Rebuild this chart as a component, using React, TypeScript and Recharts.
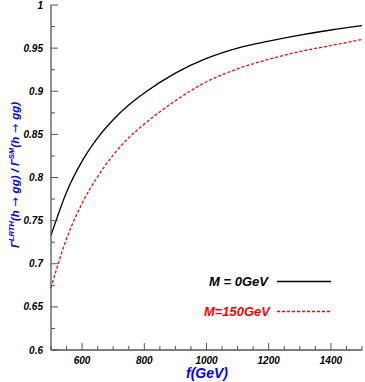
import { LineChart, Line, XAxis, YAxis, Customized } from 'recharts';

// f (GeV) and the ratio Gamma^LRTH / Gamma^SM for the two M values
const fValues = [500, 550, 600, 650, 700, 750, 800, 900, 1000, 1100, 1200, 1300, 1400, 1500];
const ratioM0 = [0.733, 0.783, 0.819, 0.846, 0.867, 0.884, 0.898, 0.921, 0.938, 0.950, 0.958, 0.965, 0.971, 0.976];
const ratioM150 = [0.672, 0.729, 0.770, 0.801, 0.826, 0.846, 0.862, 0.889, 0.911, 0.926, 0.937, 0.946, 0.953, 0.960];

const xTicks = [500, 550, 600, 650, 700, 750, 800, 850, 900, 950, 1000, 1050, 1100, 1150, 1200, 1250, 1300, 1350, 1400, 1450, 1500];
const xLabels = [600, 800, 1000, 1200, 1400];
const yTicks = [0.6, 0.625, 0.65, 0.675, 0.7, 0.725, 0.75, 0.775, 0.8, 0.825, 0.85, 0.875, 0.9, 0.925, 0.95, 0.975, 1];
const yLabels = ['0.6', '0.65', '0.7', '0.75', '0.8', '0.85', '0.9', '0.95', '1'];

const legendNames = ['M = 0GeV', 'M=150GeV'];

const data = fValues.map((f, i) => ({ f, m0: ratioM0[i], m150: ratioM150[i] }));

const AXIS = '#555';
const BLUE = '#0000ff';
const FONT = '"Liberation Sans", Arial, sans-serif';

const isMajorY = (v: number) => Math.abs(v * 20 - Math.round(v * 20)) < 1e-6;
const yLabelFor = (v: number) => yLabels.find((l) => Math.abs(parseFloat(l) - v) < 1e-6);

const BottomTick = (props: any) => {
  const { x, y, payload } = props;
  const v = payload.value;
  const major = v % 200 === 0;
  return (
    <g>
      <line x1={x} y1={y} x2={x} y2={y - (major ? 7 : 4)} stroke={AXIS} strokeWidth={1} />
      {xLabels.includes(v) && (
        <text x={x} y={y + 14} textAnchor="middle" fontFamily={FONT} fontSize={10}
          fontWeight="bold" fontStyle="italic" fill="#000">{v}</text>
      )}
    </g>
  );
};

const TopTick = (props: any) => {
  const { x, y, payload } = props;
  const major = payload.value % 200 === 0;
  return <line x1={x} y1={y} x2={x} y2={y + (major ? 7 : 4)} stroke={AXIS} strokeWidth={1} />;
};

const LeftTick = (props: any) => {
  const { x, y, payload } = props;
  const v = payload.value;
  const label = yLabelFor(v);
  return (
    <g>
      <line x1={x} y1={y} x2={x + (isMajorY(v) ? 7 : 4)} y2={y} stroke={AXIS} strokeWidth={1} />
      {label && (
        <text x={x - 8} y={y + 3.5} textAnchor="end" fontFamily={FONT} fontSize={10}
          fontWeight="bold" fontStyle="italic" fill="#000">{label}</text>
      )}
    </g>
  );
};

const RightTick = (props: any) => {
  const { x, y, payload } = props;
  return <line x1={x} y1={y} x2={x - (isMajorY(payload.value) ? 7 : 4)} y2={y} stroke={AXIS} strokeWidth={1} />;
};

const Arrow = () => (
  <tspan fontFamily='"DejaVu Sans", sans-serif' fontStyle="normal" fontWeight="normal"> → </tspan>
);

const Titles = () => (
  <g fontFamily={FONT} fontWeight="bold" fontStyle="italic">
    <text x={207} y={378} textAnchor="middle" fontSize={14} fill={BLUE}>f(GeV)</text>
    <text x={19} y={175} transform="rotate(-90, 19, 175)" textAnchor="middle" fontSize={11.5} fill={BLUE}>
      Γ<tspan fontSize={7.5} dy={-5}>LRTH</tspan>
      <tspan dy={5}>(h</tspan><Arrow /><tspan>gg) / Γ</tspan>
      <tspan fontSize={7.5} dy={-5}>SM</tspan>
      <tspan dy={5}>(h</tspan><Arrow /><tspan>gg)</tspan>
    </text>
    <text x={268} y={286} textAnchor="end" fontSize={13} fill="#000">{legendNames[0]}</text>
    <line x1={277} y1={281.5} x2={331} y2={281.5} stroke="#000" strokeWidth={1.3} />
    <text x={270} y={316} textAnchor="end" fontSize={13} fill="#ff0000">{legendNames[1]}</text>
    <line x1={277} y1={311.5} x2={330} y2={311.5} stroke="#ff0000" strokeWidth={1.3} strokeDasharray="3 2" />
  </g>
);

export default function App() {
  return (
    <div style={{ position: 'absolute', left: 0, top: 0, background: '#fff' }}>
      <LineChart width={365} height={382} data={data} margin={{ top: 5, right: 3, bottom: 0, left: 0 }}>
        <XAxis
          xAxisId="bottom" dataKey="f" type="number" domain={[500, 1500]} ticks={xTicks}
          interval={0} height={32} tickSize={0} tickMargin={0} tick={<BottomTick />}
          axisLine={{ stroke: AXIS, strokeWidth: 1.3 }} tickLine={false}
        />
        <XAxis
          xAxisId="top" orientation="top" dataKey="f" type="number" domain={[500, 1500]} ticks={xTicks}
          interval={0} height={0} tickSize={0} tickMargin={0} tick={<TopTick />}
          axisLine={{ stroke: AXIS, strokeWidth: 1.3 }} tickLine={false}
        />
        <YAxis
          yAxisId="left" type="number" domain={[0.6, 1]} ticks={yTicks} interval={0} width={51}
          tickSize={0} tickMargin={0} tick={<LeftTick />} allowDataOverflow
          axisLine={{ stroke: AXIS, strokeWidth: 1.3 }} tickLine={false}
        />
        <YAxis
          yAxisId="right" orientation="right" type="number" domain={[0.6, 1]} ticks={yTicks} interval={0}
          width={0} tickSize={0} tickMargin={0} tick={<RightTick />} allowDataOverflow
          axisLine={{ stroke: AXIS, strokeWidth: 1.3 }} tickLine={false}
        />
        <Line xAxisId="bottom" yAxisId="left" type="monotone" dataKey="m0" stroke="#000"
          strokeWidth={1.3} dot={false} isAnimationActive={false} />
        <Line xAxisId="bottom" yAxisId="left" type="monotone" dataKey="m150" stroke="#ff0000"
          strokeWidth={1.3} strokeDasharray="3 2" dot={false} isAnimationActive={false} />
        <Customized component={Titles} />
      </LineChart>
    </div>
  );
}
